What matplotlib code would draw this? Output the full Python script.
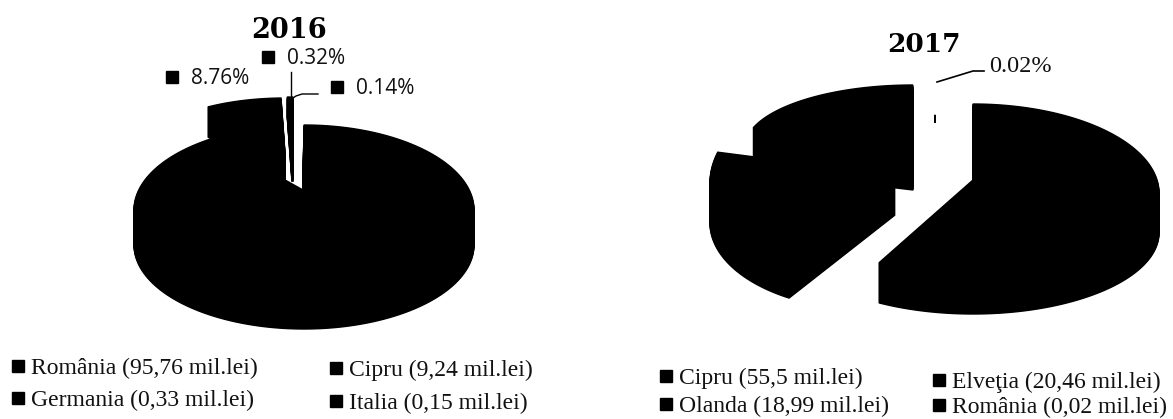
import numpy as np
import matplotlib
matplotlib.use("Agg")
import matplotlib.pyplot as plt

# date din grafic
tari_2016 = ["România", "Cipru", "Germania", "Italia"]
valori_2016 = [95.76, 9.24, 0.33, 0.15]
text_valori_2016 = ["95,76", "9,24", "0,33", "0,15"]
procente_2016 = ["8.76%", "0.32%", "0.14%"]

tari_2017 = ["Cipru", "Elveţia", "Olanda", "România"]
valori_2017 = [55.5, 20.46, 18.99, 0.02]
text_valori_2017 = ["55,5", "20,46", "18,99", "0,02"]
procente_2017 = ["0.02%"]

# varf x, varf y, centru x, centru y, rx, ry spate, ry fata, grosime
forme_2016 = [(303, 190, 304, 210, 170, 85, 84, 35),
              (285, 153, 285, 153, 141, 55, 55, 30),
              (292, 162, 292, 162, 167, 65, 65, 20),
              (293, 162, 293, 162, 167, 65, 65, 20)]
forme_2017 = [(973, 180, 973, 193, 186, 89, 81, 40),
              (895, 175, 870, 183, 160, 100, 87, 40),
              (913, 147, 913, 147, 168, 62, 62, 43),
              (935, 118, 935, 118, 30, 3, 3, 5)]

fig = plt.figure(figsize=(11.73, 4.19), dpi=100)
ax = fig.add_axes([0, 0, 1, 1])
ax.set_xlim(0, 1173)
ax.set_ylim(419, 0)
ax.axis("off")


def felie(a1, a2, forma):
    vx, vy, cx, cy, rx, ry_spate, ry_fata, gros = forma
    unghi = np.radians(np.linspace(a1, a2, 200))
    x = cx + rx * np.sin(unghi)
    c = np.cos(unghi)
    y = cy - np.where(c > 0, ry_spate, ry_fata) * c
    x = np.r_[vx, x]
    y = np.r_[vy, y]
    # grosimea: aceeasi felie coborata pixel cu pixel
    for d in range(gros + 1):
        ax.fill(x, y + d, color="black", lw=1.0)


def pie(valori, forme):
    total = sum(valori)
    start = 0
    for v, forma in zip(valori, forme):
        stop = start + v / total * 360
        felie(start, stop, forma)
        start = stop


def legenda(tari, texte, poz):
    for t, v, (xm, ym) in zip(tari, texte, poz):
        ax.plot(xm, ym, "s", color="black", ms=9)
        ax.text(xm + 13, ym + 2, f"{t} ({v} mil.lei)", family="Liberation Serif",
                fontsize=17, va="center", ha="left", color="#111111")


pie(valori_2016, forme_2016)
pie(valori_2017, forme_2017)

ax.text(289, 30, "2016", family="DejaVu Serif", weight="bold", fontsize=19.5, ha="center", va="center")
ax.text(924, 45, "2017", family="DejaVu Serif", weight="bold", fontsize=19, ha="center", va="center")

# etichete procente 2016
for txt, xm, ym in zip(procente_2016, [172, 268, 337], [77, 57, 87]):
    ax.plot(xm, ym, "s", color="black", ms=8.5)
    ax.text(xm + 19, ym + 1, txt, family="Open Sans", fontsize=15, va="center", ha="left", color="#111111")
ax.plot([291, 291], [72, 100], color="black", lw=1)
ax.plot([293, 296, 302, 318], [98, 96, 94, 94], color="black", lw=1)

# eticheta 2017
ax.plot([937, 973, 984], [82, 71, 71], color="black", lw=1.2)
ax.text(989, 66, procente_2017[0], family="Liberation Serif", fontsize=17.5, va="center", ha="left", color="#111111")

legenda(tari_2016, text_valori_2016, [(18, 366), (336, 368), (18, 398), (336, 401)])
legenda(tari_2017, text_valori_2017, [(666, 376), (939, 380), (666, 404), (939, 405)])

fig.savefig("out.png", dpi=100, facecolor="white")
